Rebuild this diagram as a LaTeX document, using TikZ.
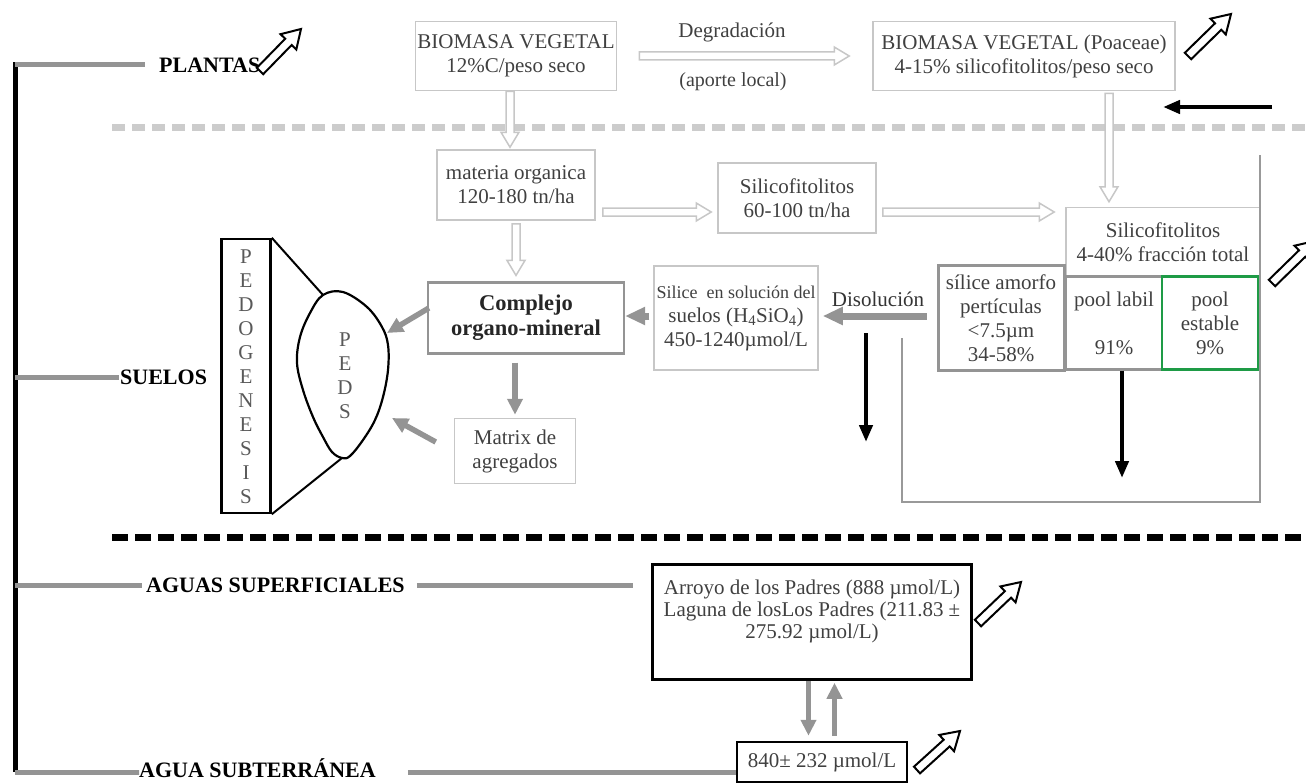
\documentclass[tikz,border=0pt]{standalone}
\usepackage{fontspec}
\setmainfont{Liberation Serif}
\usetikzlibrary{arrows.meta,calc}
\definecolor{poolgreen}{RGB}{30,155,70}

\begin{document}
\begin{tikzpicture}[x=1pt,y=-1pt,
  box/.style={rectangle,draw=black!22,line width=1.5pt,text=black!75,align=center,font=\fontsize{21}{24}\selectfont,inner sep=2pt},
  midbox/.style={box,draw=black!42,line width=2.2pt},
  bbox/.style={box,draw=black,line width=2.5pt},
  tag/.style={font=\bfseries\fontsize{22}{24}\selectfont,inner sep=0pt},
  letters/.style={align=center,text=black!65,inner sep=0pt,font=\fontsize{21}{24}\selectfont},
  branch/.style={draw=black!42,line width=5pt},
  grayarr/.style={draw=black!42,line width=7pt,-{Triangle[length=20pt,width=17pt]}},
  smallarr/.style={draw=black!42,line width=5.5pt,-{Triangle[length=16pt,width=15pt]}},
  blackarr/.style={draw=black,line width=4.5pt,-{Triangle[length=17pt,width=13pt]}},
  lighthollow/.style={draw=black!22,line width=1.5pt,fill=white},
  darkhollow/.style={draw=black,line width=2pt,fill=white,line join=miter}]
\useasboundingbox (0,0) rectangle (1306,784);
%\draw[help lines] (0,0) grid (1306,784);
\def\hollow#1#2#3{%
  \coordinate (hb) at ($(#3)!\hlen!(#2)$);
  \draw[#1] ($(#2)!\swid!90:(#3)$) -- ($(hb)!\swid!90:(#3)$) -- ($(hb)!\hwid!90:(#3)$) -- (#3)
    -- ($(hb)!\hwid!-90:(#3)$) -- ($(hb)!\swid!-90:(#3)$) -- ($(#2)!\swid!-90:(#3)$) -- cycle;}

% trunk and levels
\coordinate (top) at (15,62);
\coordinate (bot) at (15,772);
\draw[line width=5pt] (top) -- (bot);
\path
(159,65) node[tag,anchor=west] (plantas) {PLANTAS}
(120,377) node[tag,anchor=west] (suelos) {SUELOS}
(146,585) node[tag,anchor=west] (aguas) {AGUAS SUPERFICIALES}
(139,768) node[tag,anchor=west] (agua) {AGUA SUBTERRÁNEA}
;
\draw[branch] (top |- plantas.west) -- ([xshift=-14pt]plantas.west);
\draw[branch] (top |- suelos.west) -- ([xshift=-1pt]suelos.west);
\draw[branch] (top |- aguas.west) -- ([xshift=-4pt]aguas.west);
\draw[branch] (bot) -- (bot -| agua.west) -- ++(-9,0);

\draw[black!20,line width=7pt,dash pattern=on 13pt off 7pt] (112,127) -- (1306,127);
\draw[line width=7pt,dash pattern=on 16pt off 7pt] (112,537) -- (1306,537);

% boxes
\path
(516,56) node[box,minimum width=193pt,minimum height=69pt] (bio) {BIOMASA VEGETAL\\12\%C/peso seco}
(1024,56) node[box,minimum width=302pt,minimum height=69pt] (poa) {BIOMASA VEGETAL (Poaceae)\\4-15\% silicofitolitos/peso seco}
(516,185) node[box,minimum width=158pt,minimum height=70pt] (mat) {materia organica\\120-180 tn/ha}
(797,198) node[box,minimum width=158pt,minimum height=70pt] (sil1) {Silicofitolitos\\60-100 tn/ha}
(1163,242) node[box,minimum width=194pt,minimum height=69pt] (sil2) {Silicofitolitos\\4-40\% fracción total}
(1001,318) node[midbox,line width=3pt,minimum width=126pt,minimum height=105pt] (amorfo) {sílice amorfo\\pertículas\\<7.5µm\\34-58\%}
(1114,323) node[midbox,minimum width=96pt,minimum height=93pt] (labil) {pool labil\\[24pt]91\%}
(1210,323) node[box,draw=poolgreen,line width=2.5pt,minimum width=96pt,minimum height=93pt] (estable) {pool\\estable\\9\%}
(736,318) node[box,minimum width=164pt,minimum height=104pt] (solu) {\fontsize{18}{20}\selectfont Silice\ \ en solución del\\suelos (H\textsubscript{4}SiO\textsubscript{4})\\\fontsize{21}{22}\selectfont 450-1240µmol/L}
(526,318) node[midbox,text=black!85,font=\bfseries\fontsize{22.5}{25}\selectfont,minimum width=196pt,minimum height=71pt] (com) {Complejo\\organo-mineral}
(515,451) node[box,minimum width=121pt,minimum height=65pt] (matrix) {Matrix de\\agregados}
(246,376) node[bbox,minimum width=49pt,minimum height=274pt] (pedo) {}
(246,377) node[letters] (pedotxt) {P\\E\\D\\O\\G\\E\\N\\E\\S\\I\\S}
(345,376) node[letters] (peds) {P\\E\\D\\S}
(812,622) node[bbox,font=\fontsize{21}{22}\selectfont,minimum width=319pt,minimum height=115pt] (arroyo) {Arroyo de los Padres (888 µmol/L)\\Laguna de losLos Padres (211.83 ±\\275.92 µmol/L)\\[4pt]}
(822,762) node[bbox,minimum width=170pt,minimum height=40pt] (sub) {840± 232 µmol/L}
(732,32) node[text=black!75,font=\fontsize{21}{24}\selectfont] (degr) {Degradación}
(733,82) node[text=black!75,font=\fontsize{20}{24}\selectfont] (aporte) {(aporte local)}
(878,299) node[text=black!80,font=\fontsize{21}{24}\selectfont] (disol) {Disolución}
;
\draw[branch,shorten <=12pt,shorten >=18pt] (aguas.east) -- (aguas.east -| arroyo.west);
\draw[branch,shorten <=32pt] (agua.east |- bot) -- (bot -| sub.west);

% peds
\coordinate (pedstop) at (323,295);
\coordinate (pedsbot) at (342,458);
\draw[line width=2.2pt] plot[smooth cycle,tension=0.6] coordinates {(323,295) (343,292) (367,307) (382,327) (388,345) (388,370) (383,397) (375,420) (363,440) (350,456) (342,458) (332,452) (323,437) (313,417) (303,390) (297,363) (300,337) (310,313)};
\draw[line width=2pt] (pedo.north east) -- (pedstop);
\draw[line width=2pt] (pedo.south east) -- (pedsbot);

% soil column
\draw[draw=black!40,line width=2pt] (1260,155) -- (1260,502) -- (902,502) -- (902,338);

% light flows
\def\swid{4pt}\def\hwid{9pt}\def\hlen{15pt}
\coordinate (h1) at ([xshift=-6pt]bio.south);
\coordinate (h2) at ([xshift=-6pt,yshift=2pt]mat.north);
\hollow{lighthollow}{h1}{h2}
\coordinate (h3) at ([xshift=22pt]bio.east);
\coordinate (h4) at ([xshift=-23pt]poa.west);
\hollow{lighthollow}{h3}{h4}
\coordinate (h5) at ([xshift=85pt,yshift=-2pt]poa.south);
\path (h5 |- sil2.north) ++(0,-5) coordinate (h6);
\hollow{lighthollow}{h5}{h6}
\path (mat.east) ++(7,27) coordinate (h7);
\path (sil1.west) ++(-6,14) coordinate (h8);
\hollow{lighthollow}{h7}{h8}
\path (sil1.east) ++(6,14) coordinate (h9);
\path (h9 -| sil2.west) ++(-11,0) coordinate (h10);
\hollow{lighthollow}{h9}{h10}
\path (mat.south) ++(0,3) coordinate (h11);
\path (h11 |- com.north) ++(0,-6) coordinate (h12);
\hollow{lighthollow}{h11}{h12}

% soil flows
\coordinate (p1) at (387,333);
\coordinate (p2) at (392,418);
\draw[grayarr,shorten <=4pt] ([yshift=2pt]solu.west) -- ([yshift=2pt]com.east);
\draw[grayarr,shorten <=10pt,shorten >=4pt] ([yshift=2pt]amorfo.west) -- ([yshift=2pt]solu.east);
\draw[smallarr,shorten <=8pt,shorten >=3pt] (com.south -| matrix.north) -- (matrix.north);
\draw[smallarr] ([shift={(2,-10)}]com.west) -- (p1);
\draw[smallarr] ([shift={(-18,-9)}]matrix.west) -- (p2);
\draw[smallarr,shorten >=5pt] ([xshift=-3.5pt]arroyo.south) -- ([xshift=-3.5pt]arroyo.south |- sub.north);
\draw[smallarr,shorten <=5pt,shorten >=2pt] ([xshift=22.5pt]arroyo.south |- sub.north) -- ([xshift=22.5pt]arroyo.south);

% losses
\coordinate (d1) at (866,333);
\coordinate (d2) at (866,442);
\coordinate (lout) at (1122,478);
\coordinate (r1) at (1272,107);
\coordinate (r2) at (1163,107);
\draw[blackarr] (d1) -- (d2);
\draw[blackarr] (labil.south -| lout) -- (lout);
\draw[blackarr] (r1) -- (r2);

% outflow marks
\def\swid{4.5pt}\def\hwid{11pt}\def\hlen{18pt}
\coordinate (s1) at (260,71); \coordinate (s2) at (301,29);
\coordinate (s3) at (1188,56); \coordinate (s4) at (1231,14);
\coordinate (s5) at (1272,283); \coordinate (s6) at (1315,241);
\coordinate (s7) at (978,623); \coordinate (s8) at (1021,582);
\coordinate (s9) at (917,770); \coordinate (s10) at (960,731);
\hollow{darkhollow}{s1}{s2}
\hollow{darkhollow}{s3}{s4}
\hollow{darkhollow}{s5}{s6}
\hollow{darkhollow}{s7}{s8}
\hollow{darkhollow}{s9}{s10}
\end{tikzpicture}
\end{document}
